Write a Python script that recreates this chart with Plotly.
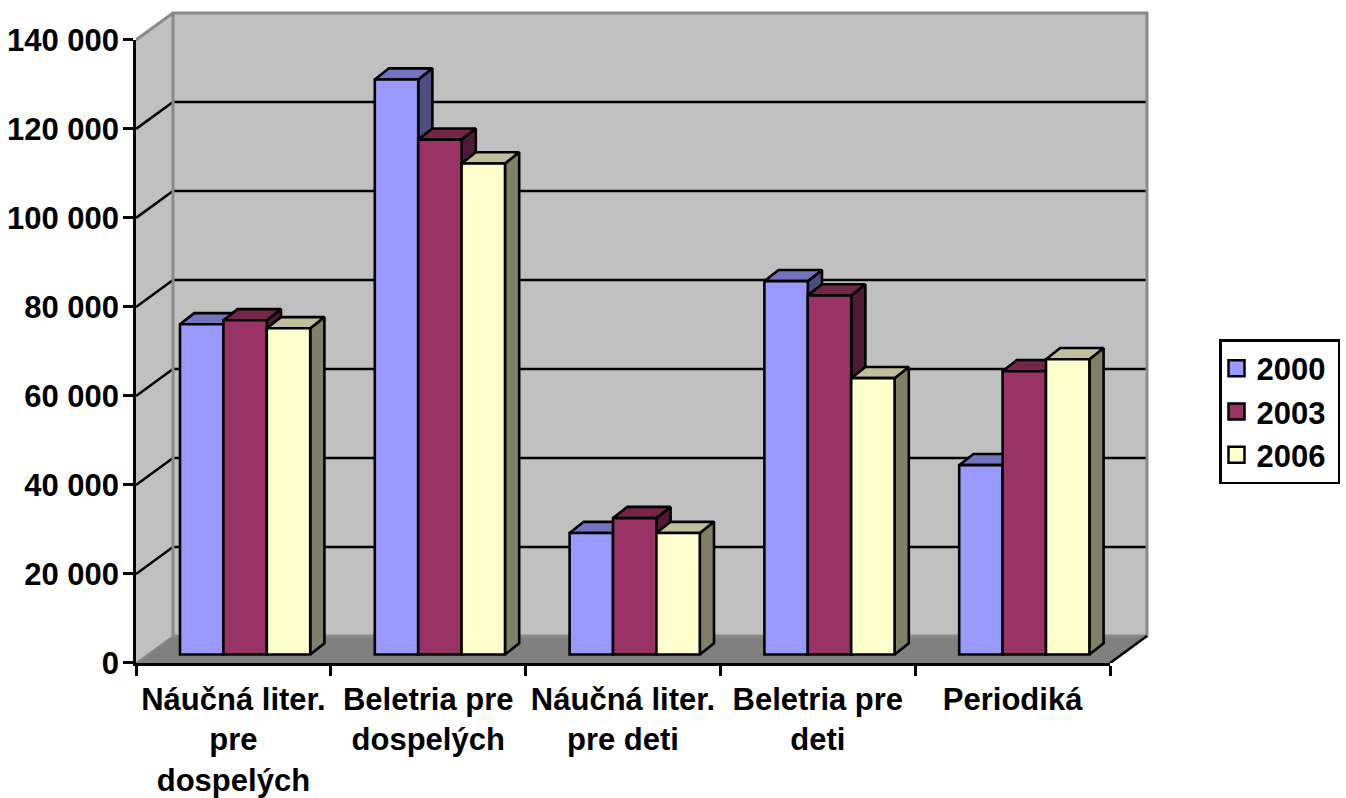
import plotly.graph_objects as go

categories = ["Náučná liter.<br>pre<br>dospelých", "Beletria pre<br>dospelých", "Náučná liter.<br>pre deti", "Beletria pre<br>deti", "Periodiká"]
series_names = ["2000", "2003", "2006"]
v2000 = [74200, 129200, 27300, 83900, 42550]
v2003 = [75100, 115700, 30650, 80700, 63650]
v2006 = [73300, 110350, 27300, 62100, 66350]
y_ticks = [0, 20000, 40000, 60000, 80000, 100000, 120000, 140000]

front_colors = ["#9999FF", "#993366", "#FFFFCC"]
top_colors = ["#7373BF", "#732648", "#BFBF99"]
side_colors = ["#4D4D80", "#4F1A35", "#808066"]
WALL = "#C0C0C0"
FLOOR = "#808080"
BORDER = "#8A8A8A"
FONT = dict(family="Liberation Sans", size=31, color="black", weight="bold")
LW = 2.6

PX_X = 194.8            # pixels per category
PX_Y = 623.5 / 140000   # pixels per value unit
n = len(categories)
wall_dx, wall_dy = 37 / PX_X, 27 / PX_Y
bar_dx, bar_dy = 14.2 / PX_X, 11.2 / PX_Y
bar_base = 8.5 / PX_Y
bar_start, bar_w = 44 / PX_X, 43.4 / PX_X
top_val = y_ticks[-1]
pad_x, pad_y = 3 / PX_X, 3 / PX_Y   # room so the wall border is not clipped

fig = go.Figure()


def poly(xs, ys, fill, line, width=LW):
    fig.add_trace(go.Scatter(x=xs, y=ys, mode="lines", fill="toself" if fill else None, fillcolor=fill,
                             line=dict(color=line, width=width), showlegend=False, hoverinfo="skip"))


# walls and floor
poly([0, wall_dx, wall_dx, 0, 0], [0, wall_dy, top_val + wall_dy, top_val, 0], WALL, WALL, 0.5)
poly([wall_dx, n + wall_dx, n + wall_dx, wall_dx, wall_dx],
     [wall_dy, wall_dy, top_val + wall_dy, top_val + wall_dy, wall_dy], WALL, WALL, 0.5)
poly([0, n, n + wall_dx, wall_dx, 0], [0, 0, wall_dy, wall_dy, 0], FLOOR, FLOOR, 1)

# gridlines
gx, gy = [], []
for t in y_ticks[1:-1]:
    gx += [0, wall_dx, n + wall_dx, None]
    gy += [t, t + wall_dy, t + wall_dy, None]
poly(gx, gy, None, "black", LW)

# wall borders
poly([0, wall_dx, n + wall_dx, n + wall_dx, wall_dx], [top_val, top_val + wall_dy, top_val + wall_dy, wall_dy, wall_dy],
     None, BORDER, 3)
poly([wall_dx, wall_dx], [wall_dy, top_val + wall_dy], None, BORDER, 3)
poly([0, wall_dx], [0, wall_dy], None, BORDER, 1.5)

# floor edge at the right
poly([n, n + wall_dx], [0, wall_dy], None, "black", LW)

# bar depth faces
for c in range(n):
    for s, vals in enumerate([v2000, v2003, v2006]):
        x0 = c + bar_start + s * bar_w
        x1 = x0 + bar_w
        y1 = bar_base + vals[c]
        poly([x1, x1 + bar_dx, x1 + bar_dx, x1, x1],
             [bar_base, bar_base + bar_dy, y1 + bar_dy, y1, bar_base], side_colors[s], "black")
        poly([x0, x1, x1 + bar_dx, x0 + bar_dx, x0],
             [y1, y1, y1 + bar_dy, y1 + bar_dy, y1], top_colors[s], "black")

# bar fronts on a second pair of axes, so they sit above the depth faces;
# these axes stop at the front plane and carry the ticks and labels
centers = [c + 0.5 for c in range(n)]
for s, vals in enumerate([v2000, v2003, v2006]):
    fig.add_trace(go.Bar(x=centers, y=vals, base=bar_base, width=bar_w, offset=bar_start - 0.5 + s * bar_w,
                         marker=dict(color=front_colors[s], line=dict(color="black", width=LW)),
                         name=series_names[s], showlegend=False, xaxis="x2", yaxis="y2"))

# legend keys
for s, name in enumerate(series_names):
    fig.add_trace(go.Scatter(x=[None], y=[None], mode="markers", name=name + "\u2009",
                             marker=dict(symbol="square", size=16, color=front_colors[s],
                                         line=dict(color="black", width=2.5))))

x_full = n + wall_dx + pad_x
y_full = top_val + wall_dy + pad_y
xdom = [0, n / x_full]
ydom = [0, top_val / y_full]
fig.update_layout(
    width=1346, height=798, autosize=False,
    margin=dict(l=136, r=196, t=10, b=135, pad=0),
    paper_bgcolor="white", plot_bgcolor="rgba(0,0,0,0)",
    separators=". ", barmode="overlay",
    font=FONT,
    xaxis=dict(range=[0, x_full], domain=[0, 1], visible=False, automargin=False),
    yaxis=dict(range=[0, y_full], domain=[0, 1], visible=False, automargin=False),
    xaxis2=dict(range=[0, n], domain=xdom, anchor="y2", showgrid=False, zeroline=False, automargin=False,
                showline=True, linecolor="black", linewidth=LW,
                tickmode="array", tickvals=centers, ticktext=categories, ticks="",
                tickfont=FONT, tickangle=0, ticklabelstandoff=7,
                minor=dict(tickmode="array", tickvals=list(range(n + 1)), ticks="outside",
                           ticklen=10, tickwidth=LW, tickcolor="black", showgrid=False)),
    yaxis2=dict(range=[0, top_val], domain=ydom, anchor="x2", showgrid=False, zeroline=False, automargin=False,
                showline=True, linecolor="black", linewidth=LW,
                tickmode="array", tickvals=y_ticks, tickformat=",d", ticks="outside",
                ticklen=10, tickwidth=LW, tickcolor="black", tickfont=FONT, ticklabelstandoff=-2),
    legend=dict(x=1219 / 1346, xanchor="left", y=1 - 339 / 798, yanchor="top", xref="container", yref="container",
                bgcolor="white", bordercolor="black", borderwidth=2.5, font=FONT,
                itemwidth=30, indentation=-5, traceorder="normal"),
)

fig.write_html("out.html", config=dict(displayModeBar=False),
               post_script="document.body.style.margin='0';document.body.style.overflow='hidden';")
